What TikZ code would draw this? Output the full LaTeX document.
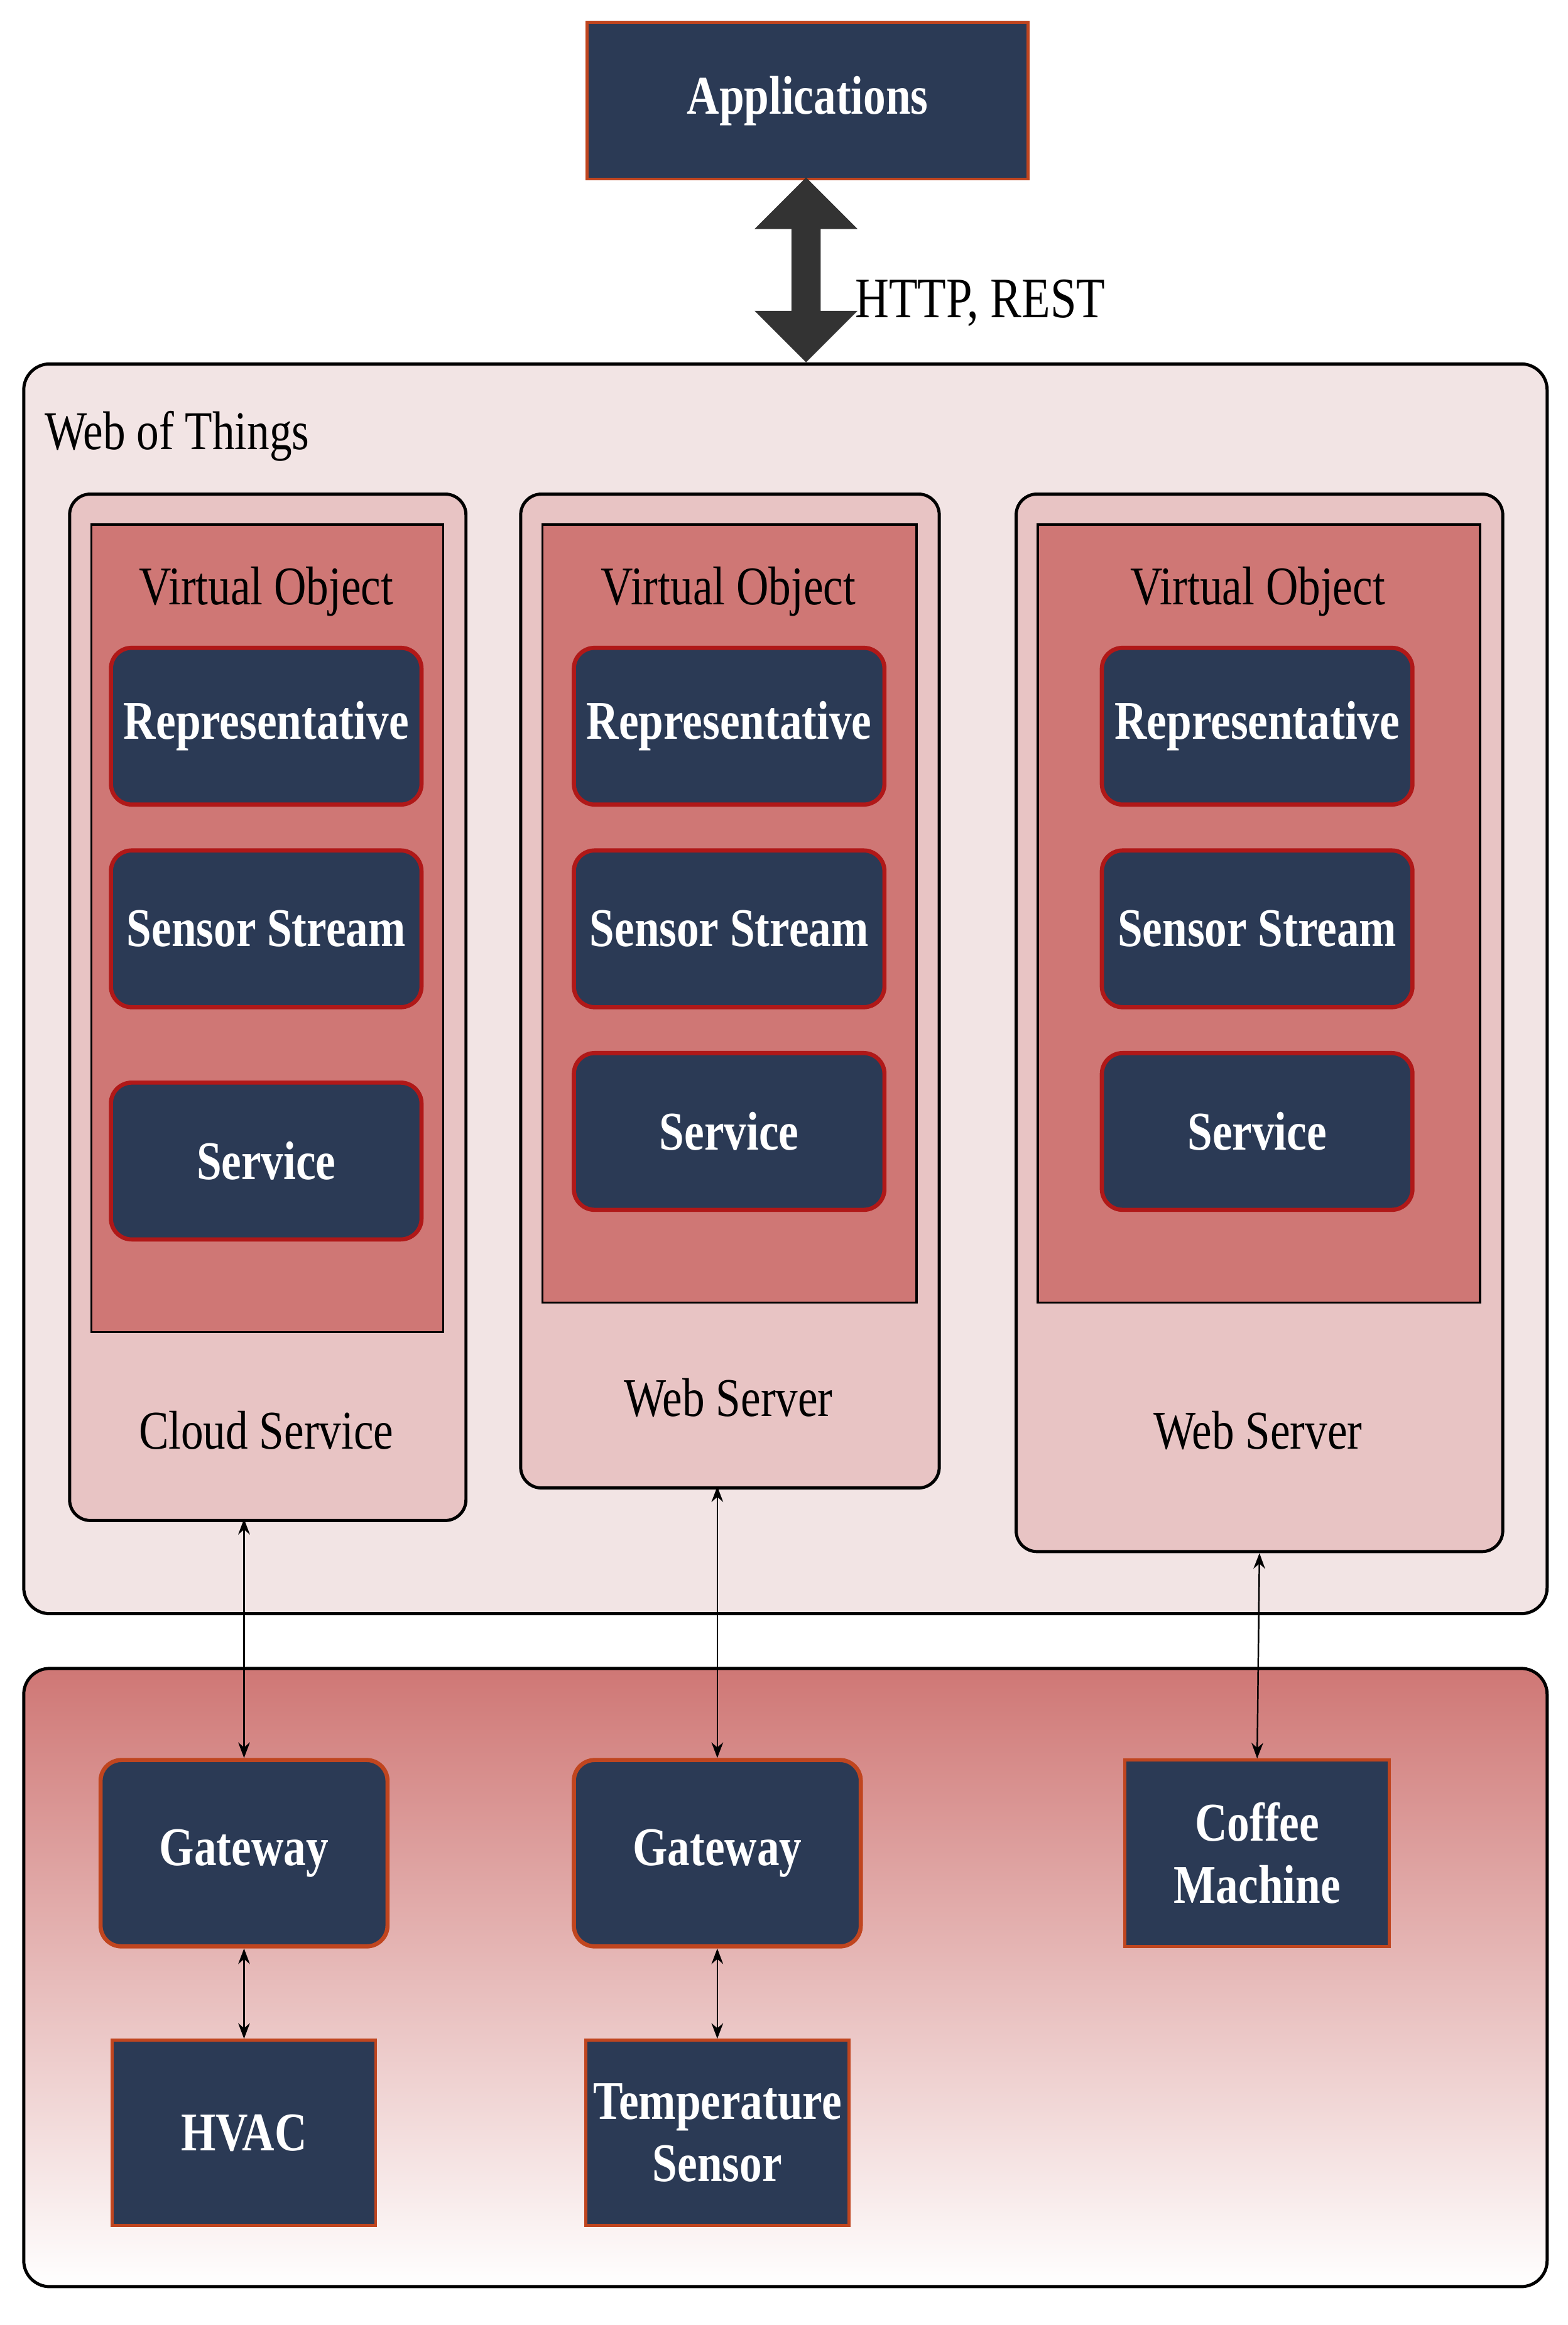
\documentclass[tikz,border=0pt]{standalone}
\usepackage{fontspec}
\setmainfont{Liberation Serif}[FakeStretch=0.82]
\usetikzlibrary{arrows.meta,shapes.arrows}
\definecolor{navy}{HTML}{2B3A55}
\definecolor{redb}{HTML}{B01818}
\definecolor{orb}{HTML}{C0451F}
\definecolor{wot}{HTML}{F2E4E4}
\definecolor{col}{HTML}{E8C4C4}
\definecolor{inn}{HTML}{CF7775}
\tikzset{
 box/.style={draw=redb,line width=1.6pt,fill=navy,text=white,rounded corners=8pt,font=\bfseries\fontsize{21}{24}\selectfont,align=center},
 sq/.style={draw=orb,line width=1.2pt,fill=navy,text=white,font=\bfseries\fontsize{21}{24}\selectfont,align=center},
 lab/.style={font=\fontsize{21}{24}\selectfont},
 conn/.style={{Stealth[length=6pt]}-{Stealth[length=6pt]},line width=0.6pt},
}
\begin{document}
\begin{tikzpicture}[x=0.02cm,y=-0.02cm]
\useasboundingbox (0,0) rectangle (1060,1572);
% Applications
\node[sq,minimum width=298*0.02cm,minimum height=106*0.02cm,anchor=north west] (app) at (396,14) {Applications};
% WoT
\node[draw,line width=1.2pt,fill=wot,rounded corners=10pt,minimum width=1030*0.02cm,minimum height=845*0.02cm,anchor=north west] (wot) at (15,245) {};
\node[lab,anchor=west] (wotl) at (24,295) {Web of Things};
\node[single arrow,double arrow,fill=black!80,draw=none,minimum width=48*0.02cm,double arrow head extend=0.5cm,shape border rotate=90,inner sep=0pt,minimum height=125*0.02cm,text width=0.38cm,double arrow head indent=0pt] (ha) at (545,182.5) {};
\node[lab,font=\fontsize{22}{24}\selectfont,anchor=west] (http) at (572,205) {HTTP, REST};
% columns
\foreach \n/\x/\w/\b/\ib/\ly/\lt in {1/46/268/1027/900/967/Cloud Service,2/351/283/1005/880/945/Web Server,3/686/329/1048/880/967/Web Server}{
 \node[draw,line width=1.2pt,fill=col,rounded corners=8pt,minimum width=\w*0.02cm,minimum height={(\b-333)*0.02cm},anchor=north west] (c\n) at (\x,333) {};
 \node[draw,line width=0.8pt,fill=inn,minimum width={(\w-30)*0.02cm},minimum height={(\ib-354)*0.02cm},anchor=north west] (i\n) at (\x+15,354) {};
 \node[lab] (v\n) at (\x+\w/2,400) {Virtual Object};
 \node[lab] (cl\n) at (\x+\w/2,\ly) {\lt};
}
\foreach \n/\cx/\sy in {1/180/785,2/493/765,3/850/765}{
 \node[box,minimum width=210*0.02cm,minimum height=106*0.02cm] (r\n) at (\cx,491) {Representative};
 \node[box,minimum width=210*0.02cm,minimum height=106*0.02cm] (s\n) at (\cx,628) {Sensor Stream};
 \node[box,minimum width=210*0.02cm,minimum height=106*0.02cm] (sv\n) at (\cx,\sy) {Service};
}
% bottom
\node[draw,line width=1.2pt,top color=inn,bottom color=white,rounded corners=10pt,minimum width=1030*0.02cm,minimum height=418*0.02cm,anchor=north west] (dev) at (15,1127) {};
\node[box,draw=orb,minimum width=194*0.02cm,minimum height=126*0.02cm] (g1) at (165,1253) {Gateway};
\node[box,draw=orb,minimum width=194*0.02cm,minimum height=126*0.02cm] (g2) at (485,1253) {Gateway};
\node[sq,minimum width=179*0.02cm,minimum height=126*0.02cm] (cm) at (850,1253) {Coffee\\Machine};
\node[sq,minimum width=178*0.02cm,minimum height=125*0.02cm] (hv) at (165,1442) {HVAC};
\node[sq,minimum width=178*0.02cm,minimum height=125*0.02cm,inner sep=1pt] (ts) at (485,1442) {Temperature\\Sensor};
\draw[conn] (165,1027) coordinate (a1) -- (g1.north);
\draw[conn] (485,1005) coordinate (a2) -- (g2.north);
\draw[conn] (c3.south) -- (cm.north);
\draw[conn] (g1) -- (hv);
\draw[conn] (g2) -- (ts);
\end{tikzpicture}
\end{document}
